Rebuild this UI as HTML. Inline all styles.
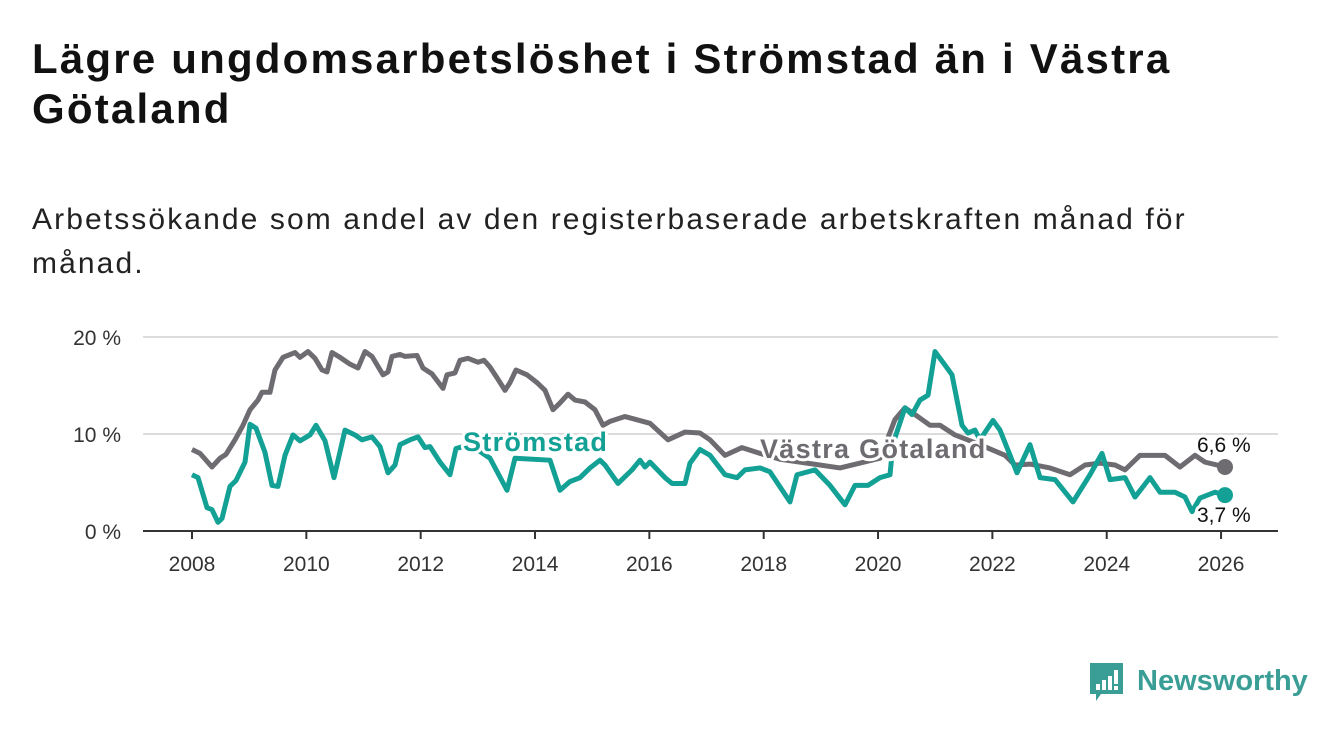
<!DOCTYPE html>
<html><head><meta charset="utf-8">
<style>
body{margin:0;width:1340px;height:734px;background:#fff;overflow:hidden;font-family:"Liberation Sans",sans-serif;}
#title{position:absolute;left:32px;top:34px;font-size:42px;letter-spacing:2.2px;font-weight:bold;color:#111;line-height:50px;width:1300px;}
#sub{position:absolute;left:32px;top:198px;font-size:30px;letter-spacing:2.1px;color:#222;line-height:44px;width:1300px;}
svg{position:absolute;left:0;top:0;}
</style></head><body>
<div id="title">Lägre ungdomsarbetslöshet i Strömstad än i Västra<br>Götaland</div>
<div id="sub">Arbetssökande som andel av den registerbaserade arbetskraften månad för<br>månad.</div>
<svg id="chart" width="1340" height="734"></svg>
<script>
const yTicks=[0,10,20];
const yTickLabels=["0 %","10 %","20 %"];
const xTicks=[2008,2010,2012,2014,2016,2018,2020,2022,2024,2026];
const vgX=[192,200,212,220,226,235,243,250,258,262,270,275,283,295,300,308,315,322,327,332,340,350,358,365,372,383,388,392,400,405,417,423,432,443,447,455,460,468,473,478,484,490,497,505,510,516,527,537,545,553,560,568,575,585,595,603,610,625,650,668,685,700,710,725,742,760,780,800,840,880,895,905,915,930,940,955,980,1005,1015,1030,1050,1070,1085,1100,1115,1125,1140,1165,1180,1195,1205,1225];
const vgV=[8.4,8.0,6.6,7.5,7.9,9.4,10.9,12.5,13.5,14.3,14.3,16.6,17.9,18.4,17.9,18.5,17.8,16.6,16.4,18.4,17.9,17.2,16.8,18.5,18.0,16.1,16.4,18.0,18.2,18.0,18.1,16.8,16.2,14.7,16.1,16.3,17.6,17.8,17.6,17.4,17.6,16.9,15.8,14.5,15.3,16.6,16.1,15.3,14.5,12.5,13.2,14.1,13.5,13.3,12.5,10.9,11.3,11.8,11.1,9.4,10.2,10.1,9.4,7.8,8.6,8.0,7.4,7.1,6.5,7.5,11.5,12.7,12.0,10.9,10.9,9.9,8.9,7.8,6.8,6.9,6.5,5.8,6.8,7.0,6.8,6.3,7.8,7.8,6.6,7.8,7.1,6.6];
const stX=[192,198,207,212,218,222,230,236,245,250,256,265,272,278,285,293,300,310,316,325,334,345,355,362,372,380,388,395,400,410,418,425,430,440,450,456,470,490,507,515,550,560,570,580,590,600,605,618,632,640,645,650,665,672,685,690,700,710,725,737,745,760,770,790,797,815,830,845,855,868,880,890,893,905,912,920,928,935,945,952,962,968,975,980,993,1000,1017,1030,1040,1055,1073,1090,1102,1110,1125,1135,1150,1160,1175,1185,1192,1200,1215,1225];
const stV=[5.8,5.5,2.4,2.2,0.9,1.3,4.6,5.2,7.1,11.0,10.6,8.1,4.7,4.6,7.8,9.9,9.3,9.9,10.9,9.3,5.5,10.4,9.9,9.4,9.7,8.7,6.0,6.8,8.9,9.4,9.7,8.6,8.7,7.1,5.8,8.5,8.9,7.5,4.2,7.5,7.3,4.2,5.1,5.5,6.5,7.3,6.8,4.9,6.3,7.3,6.6,7.1,5.5,4.9,4.9,7.0,8.4,7.8,5.8,5.5,6.3,6.5,6.1,3.0,5.8,6.3,4.7,2.7,4.7,4.7,5.5,5.8,9.0,12.7,12.0,13.5,14.0,18.5,17.1,16.1,10.9,10.1,10.4,9.4,11.4,10.4,6.0,8.9,5.5,5.3,3.0,5.8,8.0,5.3,5.5,3.5,5.5,4.0,4.0,3.5,2.0,3.4,4.0,3.7];
const NS="http://www.w3.org/2000/svg";
const svg=document.getElementById('chart');
const y=v=>531-v*9.7;
const xYear=t=>192+(t-2008)*57.17;
function el(tag,attrs,parent){const e=document.createElementNS(NS,tag);for(const k in attrs)e.setAttribute(k,attrs[k]);(parent||svg).appendChild(e);return e;}
yTicks.forEach((t,i)=>{
  if(t>0){const g=el('line',{x1:143,x2:1278,y1:y(t),y2:y(t),stroke:'#dcdcdc','stroke-width':2});
  
  }
  const tx=el('text',{x:121,y:y(t)+8,'text-anchor':'end','font-size':21,fill:'#333'});
  tx.textContent=yTickLabels[i];
  
  
});
const ax=el('line',{x1:143,x2:1278,y1:531,y2:531,stroke:'#333','stroke-width':2});


xTicks.forEach(t=>{
  const tk=el('line',{x1:xYear(t),x2:xYear(t),y1:531,y2:539,stroke:'#333','stroke-width':2});
  
  
  const tx=el('text',{x:xYear(t),y:571,'text-anchor':'middle','font-size':21,fill:'#333'});
  tx.textContent=t;
  
  
});
function line(xs,vs,color,name){
  const p=el('polyline',{points:xs.map((x,i)=>x+','+y(vs[i])).join(' '),fill:'none',stroke:color,'stroke-width':5,'stroke-linejoin':'round'});
  
  
  const c=el('circle',{cx:xs[xs.length-1],cy:y(vs[vs.length-1]),r:8,fill:color});
  
  
}
line(vgX,vgV,'#6e6b71','vastra-gotaland-line');
line(stX,stV,'#13a095','stromstad-line');
function label(txt,x,yy,color,size,bold,name,ls){
  const t=el('text',{x:x,y:yy,'font-size':size,'font-weight':bold?'bold':'normal','letter-spacing':ls||0,fill:color,stroke:'#fff','stroke-width':6,'paint-order':'stroke','stroke-linejoin':'round'});
  t.textContent=txt;
  
  
}
label('Strömstad',463,451,'#13a095',27,true,'stromstad-label',1.3);
label('Västra Götaland',760,458,'#6e6b71',27,true,'vastra-gotaland-label',1.3);
label('6,6 %',1197,452,'#111',21,false,'vastra-end-value');
label('3,7 %',1197,522,'#111',21,false,'stromstad-end-value');
const lg=el('g',{});


el('path',{d:'M1090 663 h33 v31 h-22 l-5 7 v-7 h-6 z',fill:'#3a9e96'},lg);
el('rect',{x:1096,y:684,width:4,height:6,fill:'#fff'},lg);
el('rect',{x:1102,y:680,width:4,height:10,fill:'#fff'},lg);
el('rect',{x:1108,y:676,width:4,height:14,fill:'#fff'},lg);
el('rect',{x:1114,y:670,width:4,height:14,fill:'#fff'},lg);
el('rect',{x:1114,y:686,width:4,height:4,fill:'#fff'},lg);
const lt=el('text',{x:1137,y:690,'font-size':29,'font-weight':'bold',fill:'#3a9e96'},lg);
lt.textContent='Newsworthy';
</script>
</body></html>
